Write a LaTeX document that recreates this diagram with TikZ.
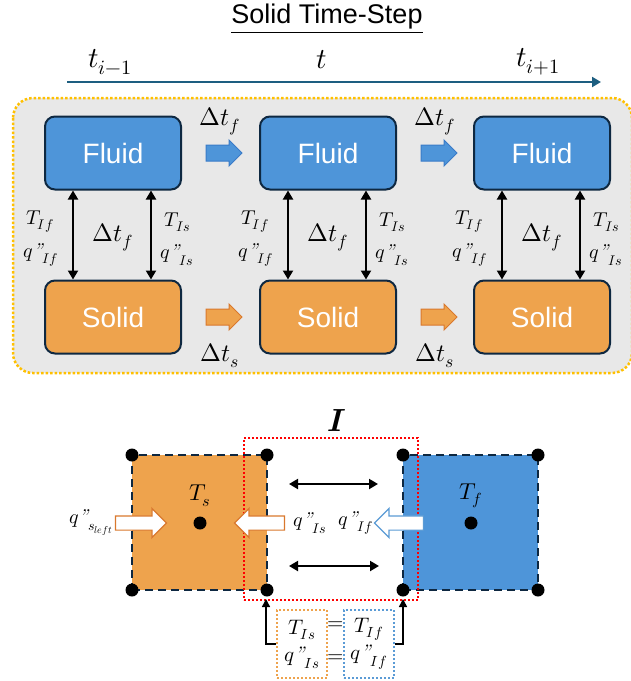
\documentclass[tikz,border=0pt]{standalone}
\usepackage{fontspec}
\usepackage{unicode-math}
\setmathfont{Latin Modern Math}
\setsansfont{Liberation Sans}
\usepackage{tikz}
\usetikzlibrary{arrows.meta, positioning, shapes.arrows}
\definecolor{fluidblue}{HTML}{4E95D9}
\definecolor{solidorange}{HTML}{EEA34D}
\definecolor{navy}{HTML}{0E2841}
\definecolor{timeblue}{HTML}{1D5E80}
\definecolor{panelgray}{HTML}{E8E8E8}
\definecolor{gold}{HTML}{FFC000}
\definecolor{edgeblue}{HTML}{3A7BC8}
\definecolor{edgeorange}{HTML}{D9782D}
\definecolor{lightblue}{HTML}{5B9BD5}
\newcommand{\qflux}[1]{{q\mbox{\itshape\textquotedblright}}_{#1}}

\begin{document}
\begin{tikzpicture}[x=1pt, y=-1pt,
    every node/.style={font=\fontsize{20}{23}\selectfont},
    titletext/.style={font=\sffamily\fontsize{27}{30}\selectfont},
    tlabel/.style={font=\fontsize{29}{32}\selectfont},
    dtlabel/.style={font=\fontsize{25}{30}\selectfont},
    fluidbox/.style={rectangle, rounded corners=10, draw=navy, line width=2, fill=fluidblue, text=white, minimum width=136, minimum height=73, font=\sffamily\fontsize{28}{32}\selectfont},
    solidbox/.style={fluidbox, fill=solidorange},
    steparrow/.style={single arrow, single arrow head extend=5, minimum height=36, inner xsep=0, inner ysep=7.5, line width=1},
    fluxarrow/.style={single arrow, fill=white, single arrow head extend=7.5, inner xsep=0, inner ysep=6.5, line width=1.2},
    cell/.style={rectangle, draw=navy, line width=2, dash pattern=on 8 off 5, minimum size=135, outer sep=0, inner sep=0},
    cornerdot/.style={circle, fill=black, inner sep=0, minimum size=13},
    eqbox/.style={dotted, line width=2, minimum width=50, minimum height=68, align=center, inner sep=0},
    dbl/.style={{Triangle[length=9,width=10]}-{Triangle[length=9,width=10]}, line width=2},
]
\useasboundingbox (0,0) rectangle (631,681);
% Title and time axis
\node[titletext] (title) at (327,19) {\underline{Solid Time-Step}};
\node[tlabel] (tprev) at (110,62) {$t_{i-1}$};
\node[tlabel] (tnow) at (322,60) {$t$};
\node[tlabel] (tnext) at (538,62) {$t_{i+1}$};
\coordinate (axstart) at (67,82);
\coordinate (axend) at (601,82);
\draw[timeblue, line width=2, -{Triangle[length=9,width=10]}] (axstart) -- (axend);
% Coupling panel
\draw[gold, fill=panelgray, line width=2.5, dotted, rounded corners=20] (13,98) rectangle (632,373);
\foreach \i/\x in {1/113, 2/328, 3/542} {
    \node[fluidbox] (f\i) at (\x,153) {Fluid};
    \node[solidbox] (s\i) at (\x,317) {Solid};
    \draw[dbl] ([xshift=-40]f\i.south) -- ([xshift=-40]s\i.north);
    \draw[dbl] ([xshift=38]f\i.south) -- ([xshift=38]s\i.north);
    \node (tif\i) at (\x-73,222) {$T_{If}$};
    \node (qif\i) at (\x-72,255) {$\qflux{If}$};
    \node (tis\i) at (\x+65,222) {$T_{Is}$};
    \node (qis\i) at (\x+64,255) {$\qflux{Is}$};
    \node[dtlabel] (dt\i) at (\x,237) {$\Delta t_f$};
}
\foreach \i/\j/\x in {1/2/220, 2/3/435} {
    \node[steparrow, fill=fluidblue, draw=edgeblue] (fa\i) at (\x,153) {};
    \node[steparrow, fill=solidorange, draw=edgeorange] (sa\i) at (\x,317) {};
    \node[dtlabel] (dtf\i) at (\x,121) {$\Delta t_f$};
    \node[dtlabel] (dts\i) at (\x,356) {$\Delta t_s$};
}
% Interface cells
\node[font=\fontsize{32}{36}\selectfont\bfseries\itshape] (ilabel) at (334,421) {I};
\node[cell, fill=solidorange] (cs) at (199.5,522.5) {};
\node[cell, fill=fluidblue] (cf) at (470.5,522.5) {};
\node[draw=red, dotted, line width=2, minimum width=174, minimum height=162, inner sep=0] (iface) at (331,519) {};
\node[font=\fontsize{23}{26}\selectfont] (ts) at (200,496) {$T_s$};
\node[font=\fontsize{23}{26}\selectfont] (tf) at (471,496) {$T_f$};
\node[fluxarrow, draw=edgeorange, minimum height=51] (qleft) at (137.5,523) {};
\node[fluxarrow, draw=edgeorange, minimum height=50, shape border rotate=180] (qsarr) at (263,523) {};
\node[fluxarrow, draw=lightblue, minimum height=49, shape border rotate=180] (qfarr) at (402.5,523) {};
\node[anchor=east, inner sep=2] (qsleft) at (qleft.west) {$\qflux{s_{left}}$};
\node (qsl) at (310,523) {$\qflux{Is}$};
\node (qfl) at (356,523) {$\qflux{If}$};
\coordinate (hua) at (289,484);
\coordinate (hub) at (378,484);
\coordinate (hla) at (289,566);
\coordinate (hlb) at (379,566);
\draw[dbl] (hua) -- (hub);
\draw[dbl] (hla) -- (hlb);
\foreach \c in {north west, north east, south west, south east} {
    \node[cornerdot] at (cs.\c) {};
    \node[cornerdot] at (cf.\c) {};
}
\node[cornerdot] (cscen) at (200,523) {};
\node[cornerdot] (cfcen) at (471,523) {};
% Interface conditions
\node[eqbox, draw=solidorange, font=\fontsize{21}{24}\selectfont] (eqs) at (302,644) {$T_{Is}$\\[3pt]$\qflux{Is}$};
\node[eqbox, draw=lightblue, font=\fontsize{21}{24}\selectfont] (eqf) at (369,644) {$T_{If}$\\[3pt]$\qflux{If}$};
\node[font=\fontsize{21}{24}\selectfont] (eqa) at (336,626) {$=$};
\node[font=\fontsize{21}{24}\selectfont] (eqb) at (336,659) {$=$};
\coordinate (lup) at (266,599);
\coordinate (rup) at (403,599);
\draw[line width=1.5, -{Triangle[length=8,width=8]}] (eqs.west) -| (lup);
\draw[line width=1.5, -{Triangle[length=8,width=8]}] (eqf.east) -| (rup);
\end{tikzpicture}
\end{document}
